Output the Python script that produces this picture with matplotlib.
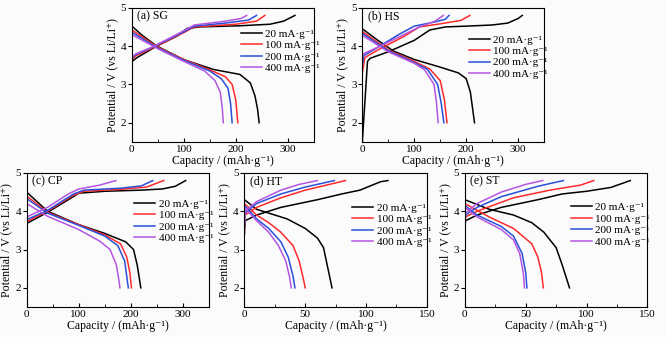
import matplotlib
matplotlib.use("Agg")
import matplotlib.pyplot as plt
from matplotlib.ticker import MultipleLocator

plt.rcParams['font.family'] = ['Liberation Serif', 'DejaVu Serif']
plt.rcParams['font.size'] = 8

rates = ["20 mA·g⁻¹", "100 mA·g⁻¹", "200 mA·g⁻¹", "400 mA·g⁻¹"]
colors = ["#000000", "#ff2a2a", "#2a4fd8", "#b455e0"]

# (a) SG  -- charge / discharge curves, capacity (mAh/g) and potential (V)
sg_chg_x = [[0, 0.5, 10, 48, 87, 106, 131, 208, 266, 292, 314],
            [0, 0.5, 8, 40, 100, 120, 200, 240, 256],
            [0, 0.5, 8, 40, 100, 120, 180, 225, 240],
            [0, 0.5, 8, 40, 100, 120, 180, 210, 221]]
sg_chg_y = [[2.0, 3.6, 3.7, 4.0, 4.26, 4.46, 4.5, 4.53, 4.57, 4.65, 4.8],
            [2.0, 3.65, 3.75, 3.95, 4.35, 4.5, 4.57, 4.65, 4.8],
            [2.0, 3.7, 3.78, 3.97, 4.37, 4.52, 4.6, 4.68, 4.8],
            [2.0, 3.72, 3.8, 3.98, 4.4, 4.55, 4.65, 4.72, 4.8]]
sg_dis_x = [[0, 20, 48, 99, 157, 208, 228, 237, 242, 245],
            [0, 50, 100, 150, 180, 193, 200, 204],
            [0, 50, 100, 150, 172, 185, 190, 193],
            [0, 50, 100, 140, 160, 170, 174, 176]]
sg_dis_y = [[4.52, 4.28, 4.0, 3.65, 3.39, 3.26, 3.04, 2.7, 2.35, 2.0],
            [4.42, 3.97, 3.65, 3.38, 3.2, 3.0, 2.6, 2.0],
            [4.36, 3.95, 3.63, 3.35, 3.15, 2.9, 2.5, 2.0],
            [4.3, 3.93, 3.6, 3.35, 3.1, 2.8, 2.4, 2.0]]

# (b) HS
hs_chg_x = [[0, 10, 15, 50, 100, 130, 160, 200, 250, 280, 300, 308],
            [0, 5, 30, 80, 110, 150, 190, 207],
            [0, 3, 30, 70, 100, 140, 160, 167],
            [0, 2, 30, 80, 110, 140, 156]]
hs_chg_y = [[1.5, 3.6, 3.68, 3.85, 4.15, 4.42, 4.5, 4.52, 4.55, 4.6, 4.72, 4.8],
            [3.3, 3.7, 3.9, 4.25, 4.5, 4.58, 4.67, 4.8],
            [3.5, 3.75, 3.97, 4.3, 4.52, 4.63, 4.7, 4.8],
            [3.6, 3.8, 3.97, 4.3, 4.5, 4.65, 4.8]]
hs_dis_x = [[0, 30, 60, 100, 150, 185, 200, 208, 212, 216],
            [0, 50, 100, 130, 150, 158, 163],
            [0, 50, 100, 125, 145, 152, 157],
            [0, 50, 100, 120, 138, 143, 146]]
hs_dis_y = [[4.45, 4.15, 3.87, 3.65, 3.45, 3.3, 3.15, 2.8, 2.4, 2.0],
            [4.38, 3.9, 3.6, 3.4, 3.1, 2.6, 2.0],
            [4.33, 3.88, 3.57, 3.4, 3.0, 2.5, 2.0],
            [4.28, 3.85, 3.55, 3.38, 3.0, 2.5, 2.0]]

# (c) CP
cp_chg_x = [[0, 40, 80, 100, 150, 220, 260, 285, 305],
            [0, 40, 90, 110, 180, 230, 263],
            [0, 40, 90, 110, 180, 220, 242],
            [0, 40, 80, 100, 140, 171]]
cp_chg_y = [[3.68, 3.97, 4.3, 4.47, 4.52, 4.55, 4.58, 4.65, 4.8],
            [3.73, 4.0, 4.42, 4.52, 4.57, 4.63, 4.8],
            [3.78, 4.02, 4.45, 4.55, 4.6, 4.66, 4.8],
            [3.85, 4.1, 4.45, 4.58, 4.68, 4.8]]
cp_dis_x = [[0, 40, 100, 150, 190, 205, 212, 219],
            [0, 40, 100, 150, 180, 192, 198, 201],
            [0, 40, 100, 150, 175, 188, 192, 195],
            [0, 40, 100, 140, 160, 172, 177, 179]]
cp_dis_y = [[4.5, 4.0, 3.65, 3.42, 3.2, 3.0, 2.6, 2.0],
            [4.4, 3.97, 3.65, 3.38, 3.15, 2.8, 2.4, 2.0],
            [4.33, 3.95, 3.63, 3.35, 3.1, 2.7, 2.3, 2.0],
            [4.2, 3.87, 3.52, 3.22, 3.0, 2.6, 2.2, 2.0]]

# (d) HT
ht_chg_x = [[0, 0.5, 10, 30, 60, 80, 95, 105, 112, 118],
            [0, 0.5, 10, 30, 50, 70, 83],
            [0, 0.5, 10, 30, 50, 74],
            [0, 0.5, 10, 30, 45, 60]]
ht_chg_y = [[3.4, 3.75, 3.9, 4.1, 4.3, 4.45, 4.55, 4.68, 4.77, 4.8],
            [3.5, 3.9, 4.1, 4.35, 4.55, 4.7, 4.8],
            [3.6, 3.95, 4.2, 4.45, 4.63, 4.8],
            [3.7, 4.0, 4.25, 4.55, 4.7, 4.8]]
ht_dis_x = [[0, 10, 20, 35, 50, 60, 65, 68, 72],
            [0, 10, 20, 30, 40, 45, 48, 50],
            [0, 10, 20, 30, 36, 40, 41.5],
            [0, 10, 20, 28, 34, 37, 38.5]]
ht_dis_y = [[4.3, 4.05, 3.95, 3.8, 3.55, 3.3, 3.05, 2.6, 2.0],
            [4.2, 3.9, 3.7, 3.45, 3.1, 2.7, 2.3, 2.0],
            [4.15, 3.8, 3.55, 3.2, 2.8, 2.3, 2.0],
            [4.1, 3.75, 3.45, 3.1, 2.7, 2.3, 2.0]]

# (e) ST
st_chg_x = [[0, 0.5, 10, 30, 60, 80, 100, 120, 136],
            [0, 0.5, 10, 40, 70, 95, 106],
            [0, 0.5, 10, 30, 60, 81],
            [0, 0.5, 10, 30, 50, 64]]
st_chg_y = [[3.5, 3.75, 3.9, 4.1, 4.3, 4.45, 4.52, 4.62, 4.8],
            [3.6, 3.85, 4.0, 4.35, 4.55, 4.68, 4.8],
            [3.6, 3.9, 4.1, 4.38, 4.65, 4.8],
            [3.7, 3.95, 4.2, 4.5, 4.7, 4.8]]
st_dis_x = [[0, 20, 40, 55, 65, 75, 80, 86],
            [0, 20, 40, 55, 60, 63, 64.5],
            [0, 10, 30, 40, 47, 50, 51],
            [0, 10, 30, 40, 45, 48, 49]]
st_dis_y = [[4.3, 4.05, 3.9, 3.7, 3.45, 3.05, 2.6, 2.0],
            [4.2, 3.85, 3.55, 3.15, 2.8, 2.4, 2.0],
            [4.15, 3.9, 3.6, 3.35, 2.9, 2.4, 2.0],
            [4.1, 3.85, 3.52, 3.25, 2.9, 2.4, 2.0]]

panels = [
    ("(a) SG", sg_chg_x, sg_chg_y, sg_dis_x, sg_dis_y, 350, [0.198, 0.579, 0.273, 0.398], (0.60, 0.677)),
    ("(b) HS", hs_chg_x, hs_chg_y, hs_dis_x, hs_dis_y, 350, [0.544, 0.579, 0.273, 0.398], (0.585, 0.634)),
    ("(c) CP", cp_chg_x, cp_chg_y, cp_dis_x, cp_dis_y, 350, [0.040, 0.089, 0.274, 0.398], (0.59, 0.64)),
    ("(d) HT", ht_chg_x, ht_chg_y, ht_dis_x, ht_dis_y, 150, [0.367, 0.089, 0.274, 0.398], (0.59, 0.612)),
    ("(e) ST", st_chg_x, st_chg_y, st_dis_x, st_dis_y, 150, [0.698, 0.089, 0.274, 0.398], (0.58, 0.615)),
]

fig = plt.figure(figsize=(6.66, 3.37), dpi=100)
fig.patch.set_facecolor('#fbfbfb')

for name, cx, cy, dx, dy, xmax, pos, leg in panels:
    ax = fig.add_axes(pos)
    ax.set_facecolor('#fbfbfb')
    for i in range(4):
        ax.plot(cx[i], cy[i], color=colors[i], lw=1.1, label=rates[i])
        ax.plot(dx[i], dy[i], color=colors[i], lw=1.1)
    ax.set_xlim(0, xmax)
    ax.set_ylim(1.5, 5)
    ax.yaxis.set_major_locator(MultipleLocator(1))
    if xmax == 350:
        ax.xaxis.set_major_locator(MultipleLocator(100))
        ax.xaxis.set_minor_locator(MultipleLocator(50))
    else:
        ax.xaxis.set_major_locator(MultipleLocator(50))
        ax.xaxis.set_minor_locator(MultipleLocator(25))
    ax.tick_params(axis='x', direction='in', length=3, labelsize=8, pad=2)
    ax.tick_params(axis='x', which='minor', direction='in', length=2)
    ax.tick_params(axis='y', direction='out', length=3, labelsize=8, pad=1)
    ax.set_xlabel("Capacity / (mAh·g⁻¹)", fontsize=8.5, labelpad=1)
    ax.set_ylabel("Potential / V (vs Li/Li⁺)", fontsize=8.5, labelpad=2)
    ax.text(0.03, 0.94, name, transform=ax.transAxes, fontsize=8.5, va='center', ha='left')
    ax.legend(loc='center left', bbox_to_anchor=leg, frameon=False, fontsize=8,
              handlelength=1.9, handletextpad=0.3, labelspacing=0.15,
              borderpad=0, borderaxespad=0)
    for s in ax.spines.values():
        s.set_linewidth(0.8)

fig.savefig("out.png", dpi=100, facecolor=fig.get_facecolor())
